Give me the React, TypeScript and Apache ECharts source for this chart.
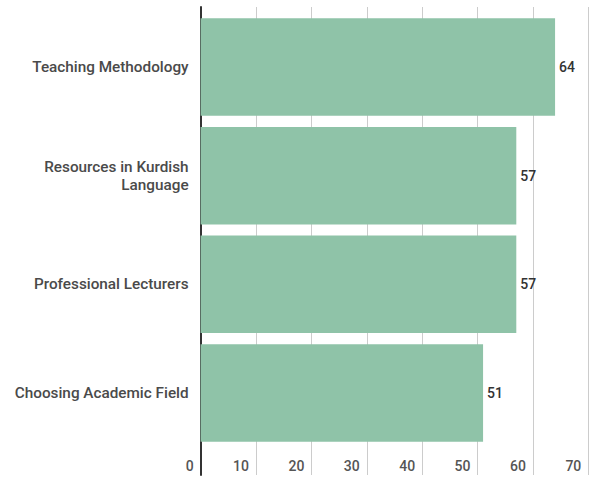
import React, { useEffect, useRef } from "react";
import * as echarts from "echarts";

const categories = [
  "Teaching Methodology",
  "Resources in Kurdish\nLanguage",
  "Professional Lecturers",
  "Choosing Academic Field",
];
const values = [64, 57, 57, 51];
const axisMin = 0;
const axisMax = 70;
const axisInterval = 10;

export default function App() {
  const ref = useRef<HTMLDivElement>(null);
  useEffect(() => {
    if (!ref.current) return;
    const chart = echarts.init(ref.current, null, { renderer: "svg" });
    const font = "Roboto, 'Noto Sans', sans-serif";
    chart.setOption({
      animation: false,
      backgroundColor: "#ffffff",
      grid: [
        { top: 7, bottom: 2, left: 200.6, right: 4.7 },
        { top: 12.7, height: 434.5, left: 200.6, right: 4.7 },
      ],
      xAxis: [
        {
          type: "value",
          gridIndex: 0,
          min: axisMin,
          max: axisMax,
          interval: axisInterval,
          axisLine: { show: false },
          axisTick: { show: false },
          splitLine: { show: true, lineStyle: { color: "#cccccc", width: 1 } },
          axisLabel: {
            inside: true,
            margin: 9,
            verticalAlign: "middle",
            align: "right",
            padding: [0, 7, 0, 0],
            color: "#555555",
            fontSize: 14,
            fontWeight: 500,
            fontFamily: font,
            showMinLabel: true,
            showMaxLabel: true,
          },
        },
        {
          type: "value",
          gridIndex: 1,
          min: axisMin,
          max: axisMax,
          interval: axisInterval,
          show: false,
        },
      ],
      yAxis: [
        {
          type: "value",
          gridIndex: 0,
          axisLine: { show: true, lineStyle: { color: "#333333", width: 2 } },
          axisTick: { show: false },
          axisLabel: { show: false },
          splitLine: { show: false },
        },
        {
          type: "category",
          gridIndex: 1,
          inverse: true,
          data: categories,
          axisLine: { show: false },
          axisTick: { show: false },
          axisLabel: {
            margin: 12,
            color: "#4a4a4a",
            fontSize: 15.3,
            fontWeight: 500,
            fontFamily: font,
            lineHeight: 18,
            align: "right",
          },
        },
      ],
      series: [
        {
          type: "bar",
          xAxisIndex: 1,
          yAxisIndex: 1,
          data: values,
          barWidth: 97.5,
          itemStyle: { color: "#8fc3a8" },
          label: {
            show: true,
            position: "right",
            distance: 4,
            color: "#333333",
            fontSize: 14,
            fontWeight: 500,
            fontFamily: font,
          },
        },
      ],
    });
    return () => chart.dispose();
  }, []);
  return (
    <div
      ref={ref}
      style={{ position: "fixed", left: 0, top: 0, width: 593, height: 477 }}
    />
  );
}
